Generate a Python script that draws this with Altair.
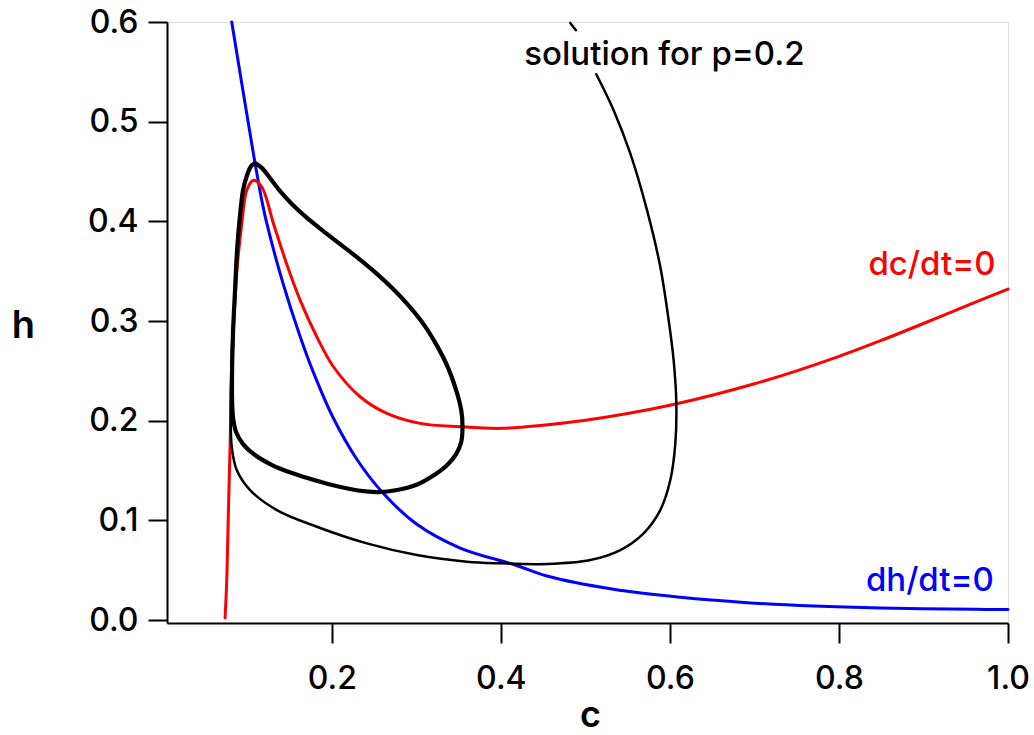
import altair as alt
import pandas as pd

# dh/dt = 0 nullcline (blue)
blue_c = [0.0816, 0.0954, 0.1072, 0.1171, 0.1231, 0.1424, 0.1625, 0.1782, 0.2019, 0.2296,
          0.2592, 0.3006, 0.3519, 0.4170, 0.4545, 0.5333, 0.6123, 0.6913, 0.7701, 0.8491,
          0.9635, 1.0]
blue_h = [0.600, 0.5283, 0.4681, 0.4213, 0.3979, 0.3374, 0.2845, 0.2485, 0.2024, 0.1613,
          0.1287, 0.0960, 0.0722, 0.0552, 0.0441, 0.0308, 0.0228, 0.0174, 0.0140, 0.0120,
          0.0107, 0.0105]

# dc/dt = 0 nullcline (red)
red_c = [0.0737, 0.0757, 0.0776, 0.0796, 0.0816, 0.0875, 0.0935, 0.0994, 0.1072, 0.1171,
         0.1309, 0.1467, 0.1625, 0.1822, 0.2019, 0.2335, 0.2651, 0.3045, 0.3519, 0.40,
         0.45, 0.50, 0.55, 0.60, 0.65, 0.70, 0.75, 0.80, 0.85, 0.90, 0.95, 1.0]
red_h = [0.002, 0.0401, 0.1073, 0.1738, 0.2474, 0.3477, 0.3979, 0.4313, 0.4413, 0.4346,
         0.3979, 0.3570, 0.3210, 0.2842, 0.2541, 0.2240, 0.2073, 0.1973, 0.1939, 0.1923,
         0.1955, 0.2005, 0.2072, 0.2155, 0.2255, 0.2370, 0.2500, 0.2645, 0.2805, 0.2975,
         0.3150, 0.3320]

# limit cycle (thick black loop)
loop_c = [0.1092, 0.1175, 0.1270, 0.1388, 0.1530, 0.1696, 0.1885, 0.2098, 0.2311, 0.2524,
          0.2726, 0.2915, 0.3093, 0.3247, 0.3377, 0.3471, 0.3531, 0.3546, 0.3531, 0.3471,
          0.3365, 0.3211, 0.3010, 0.2773, 0.2548, 0.2311, 0.2051, 0.1790, 0.1530, 0.1293,
          0.1092, 0.0950, 0.0867, 0.0832, 0.0820, 0.0820, 0.0832, 0.0855, 0.0879, 0.0914,
          0.0950, 0.0997, 0.1045, 0.1092]
loop_h = [0.4584, 0.4534, 0.4433, 0.4303, 0.4172, 0.4042, 0.3912, 0.3771, 0.3631, 0.3480,
          0.3320, 0.3149, 0.2959, 0.2748, 0.2528, 0.2307, 0.2106, 0.1946, 0.1785, 0.1665,
          0.1555, 0.1454, 0.1359, 0.1304, 0.1284, 0.1299, 0.1344, 0.1404, 0.1474, 0.1555,
          0.1655, 0.1765, 0.1886, 0.2026, 0.2207, 0.2508, 0.2909, 0.3310, 0.3711, 0.4062,
          0.4313, 0.4463, 0.4554, 0.4584]

# solution trajectory for p=0.2 (thin black), two visible pieces
traj_top_c = [0.4821, 0.4888]
traj_top_h = [0.5991, 0.5918]
traj_c = [0.5129, 0.5334, 0.5531, 0.5729, 0.5886, 0.5985, 0.6044, 0.6076, 0.6064, 0.6005,
          0.5886, 0.5689, 0.5413, 0.5058, 0.4545, 0.3992, 0.3598, 0.3006, 0.2414, 0.1822,
          0.1349, 0.1033, 0.0875, 0.0816, 0.0804, 0.0808, 0.0822]
traj_h = [0.5476, 0.5115, 0.4681, 0.4112, 0.3544, 0.3009, 0.2608, 0.2173, 0.1772, 0.1404,
          0.1103, 0.0870, 0.0702, 0.0602, 0.0562, 0.0569, 0.0585, 0.0652, 0.0769, 0.0936,
          0.1103, 0.1304, 0.1505, 0.1738, 0.2073, 0.2407, 0.2800]

# annotations
ann_text = ["solution for p=0.2", "dc/dt=0", "dh/dt=0"]
ann_c = [0.4277, 0.9852, 0.9832]
ann_h = [0.5567, 0.346, 0.0294]
ann_color = ["black", "red", "blue"]
ann_align = ["left", "right", "right"]

x_ticks = [0.2, 0.4, 0.6, 0.8, 1.0]
y_ticks = [0.0, 0.1, 0.2, 0.3, 0.4, 0.5, 0.6]

FONT = "Inter"

def frame(cs, hs, seg="a"):
    return pd.DataFrame({"c": cs, "h": hs, "i": list(range(len(cs))), "seg": seg})

xs = alt.Scale(domain=[0.005, 1.0], nice=False, zero=False)
ys = alt.Scale(domain=[-0.003, 0.6], nice=False, zero=False)

x_axis = alt.Axis(values=x_ticks, format=".1f", grid=False, tickSize=20, tickWidth=2,
                  domainWidth=2, domainColor="black", tickColor="black",
                  labelFont=FONT, labelFontSize=32, labelFontWeight=500, labelColor="black",
                  labelBaseline="alphabetic", labelPadding=45, labelFlush=False,
                  title="c", titleFont=FONT, titleFontSize=36, titleFontWeight=600,
                  titleColor="black", titleX=423, titleY=111, titleBaseline="bottom",
                  titleAlign="center")
y_axis = alt.Axis(values=y_ticks, format=".1f", grid=False, tickSize=19, tickWidth=2,
                  domainWidth=2, domainColor="black", tickColor="black",
                  labelFont=FONT, labelFontSize=32, labelFontWeight=500, labelColor="black",
                  labelPadding=10, labelFlush=False,
                  title="h", titleFont=FONT, titleFontSize=38, titleFontWeight=600,
                  titleColor="black", titleAngle=0, titleX=-144, titleY=315,
                  titleBaseline="alphabetic", titleAlign="center")

def line(df, color, width):
    return alt.Chart(df).mark_line(color=color, strokeWidth=width, interpolate="catmull-rom",
                                   strokeJoin="round", strokeCap="round").encode(
        x=alt.X("c:Q", scale=xs, axis=x_axis),
        y=alt.Y("h:Q", scale=ys, axis=y_axis),
        order="i:Q",
        detail="seg:N",
    )

layers = [
    line(frame(blue_c, blue_h), "#0000FF", 3),
    line(frame(red_c, red_h), "#FF0000", 3),
    line(pd.concat([frame(traj_top_c, traj_top_h, "top"), frame(traj_c, traj_h, "main")]), "black", 2.5),
    line(frame(loop_c, loop_h), "black", 4.2),
]

for t, c, h, col, al in zip(ann_text, ann_c, ann_h, ann_color, ann_align):
    df = pd.DataFrame({"c": [c], "h": [h], "t": [t]})
    layers.append(
        alt.Chart(df).mark_text(font=FONT, fontSize=33, fontWeight=500, color=col,
                                align=al, baseline="alphabetic").encode(
            x=alt.X("c:Q", scale=xs, axis=x_axis),
            y=alt.Y("h:Q", scale=ys, axis=y_axis),
            text="t:N",
        )
    )

chart = alt.layer(*layers).properties(
    width=841, height=601,
    autosize=alt.AutoSizeParams(type="none"),
    padding={"left": 167, "top": 22, "right": 26, "bottom": 112},
).configure_view(stroke=None).configure(background="white")

chart.save("out.html", embed_options={"renderer": "svg", "actions": False})
